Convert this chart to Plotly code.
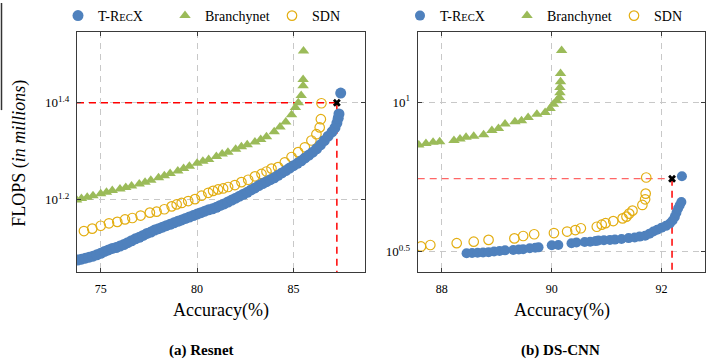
import numpy as np
import plotly.graph_objects as go

# ---------------- (a) Resnet ----------------
resnet_trecx_acc = [73.8, 74.0, 74.2, 74.4, 74.6, 74.8, 75.0, 75.2, 75.4, 75.6, 75.8, 76.0, 76.2, 76.4,
                    76.6, 76.8, 77.0, 77.2, 77.4, 77.6, 77.8, 78.0, 78.2, 78.4, 78.6, 78.8, 79.0, 79.2,
                    79.4, 79.6, 79.8, 80.0, 80.2, 80.4, 80.6, 80.8, 81.0, 81.2, 81.4, 81.6, 81.8, 82.0,
                    82.2, 82.4, 82.6, 82.8, 83.0, 83.2, 83.4, 83.6, 83.8, 84.0, 84.2, 84.4, 84.6, 84.8,
                    85.0, 85.2, 85.4, 85.6, 85.8, 86.0, 86.2, 86.4, 86.6, 86.8, 87.0, 87.15, 87.25,
                    87.32, 87.36, 87.45]
resnet_trecx_log10_flops = [1.075, 1.077, 1.079, 1.081, 1.083, 1.086, 1.089, 1.093, 1.096, 1.099, 1.101,
                            1.104, 1.107, 1.111, 1.115, 1.119, 1.122, 1.126, 1.130, 1.133, 1.137, 1.140,
                            1.143, 1.146, 1.149, 1.152, 1.155, 1.158, 1.161, 1.164, 1.167, 1.170, 1.173,
                            1.176, 1.179, 1.181, 1.184, 1.188, 1.191, 1.195, 1.199, 1.203, 1.207, 1.211,
                            1.215, 1.220, 1.224, 1.229, 1.233, 1.237, 1.241, 1.245, 1.250, 1.255, 1.260,
                            1.265, 1.270, 1.275, 1.280, 1.286, 1.292, 1.298, 1.305, 1.313, 1.322, 1.331,
                            1.340, 1.348, 1.358, 1.368, 1.377, 1.420]

resnet_branchy_acc = [73.75, 74.0, 74.3, 74.6, 75.0, 75.3, 75.6, 76.0, 76.3, 76.6, 77.0, 77.3, 77.6, 78.0,
                      78.3, 78.6, 79.0, 79.3, 79.6, 80.0, 80.3, 80.6, 81.0, 81.3, 81.6, 82.0, 82.3, 82.6,
                      83.0, 83.3, 83.6, 84.0, 84.3, 84.6, 84.9, 85.1, 85.25, 85.4, 85.5, 85.5, 85.52]
resnet_branchy_log10_flops = [1.199, 1.202, 1.205, 1.208, 1.212, 1.215, 1.219, 1.222, 1.225, 1.228, 1.232,
                              1.236, 1.240, 1.245, 1.249, 1.254, 1.259, 1.264, 1.269, 1.275, 1.279, 1.283,
                              1.289, 1.294, 1.298, 1.304, 1.309, 1.313, 1.319, 1.324, 1.330, 1.340, 1.350,
                              1.360, 1.375, 1.390, 1.400, 1.415, 1.435, 1.448, 1.507]

resnet_sdn_acc = [74.13, 74.56, 75.0, 75.43, 75.86, 76.26, 76.64, 77.07, 77.55, 77.9, 78.3, 78.68, 78.94,
                  79.2, 79.54, 79.89, 80.23, 80.58, 80.83, 81.09, 81.35, 81.61, 81.96, 82.3, 82.65, 83.0,
                  83.34, 83.6, 83.86, 84.2, 84.55, 84.9, 85.24, 85.59, 85.93, 86.19, 86.36, 86.42, 86.45]
resnet_sdn_log10_flops = [1.135, 1.140, 1.146, 1.151, 1.154, 1.159, 1.162, 1.167, 1.173, 1.175, 1.180,
                          1.186, 1.190, 1.193, 1.197, 1.201, 1.208, 1.214, 1.218, 1.221, 1.223, 1.226,
                          1.230, 1.236, 1.241, 1.248, 1.253, 1.258, 1.264, 1.267, 1.277, 1.288, 1.298,
                          1.308, 1.322, 1.335, 1.349, 1.366, 1.399]

resnet_target_acc = 87.25
resnet_target_log10_flops = 1.4

# ---------------- (b) DS-CNN ----------------
dscnn_trecx_acc = [88.45, 88.55, 88.65, 88.75, 88.85, 88.95, 89.05, 89.15, 89.3, 89.4, 89.48, 89.6, 89.7,
                   89.76, 90.0, 90.12, 90.36, 90.45, 90.6, 90.7, 90.8, 90.85, 90.95, 91.06, 91.15, 91.27,
                   91.4, 91.51, 91.6, 91.7, 91.78, 91.85, 91.92, 92.0, 92.08, 92.15, 92.2, 92.24, 92.27,
                   92.3, 92.33, 92.36, 92.37]
dscnn_trecx_log10_flops = [0.494, 0.495, 0.496, 0.497, 0.498, 0.500, 0.502, 0.504, 0.505, 0.507, 0.508,
                           0.511, 0.513, 0.514, 0.521, 0.522, 0.528, 0.530, 0.532, 0.533, 0.535, 0.537,
                           0.538, 0.539, 0.540, 0.542, 0.545, 0.547, 0.550, 0.553, 0.560, 0.567, 0.573,
                           0.580, 0.586, 0.594, 0.604, 0.616, 0.630, 0.644, 0.655, 0.666, 0.752]

dscnn_branchy_acc = [87.58, 87.71, 87.84, 87.96, 88.22, 88.33, 88.44, 88.58, 88.76, 88.91, 89.03, 89.15,
                     89.33, 89.45, 89.57, 89.73, 89.88, 89.97, 90.03, 90.09, 90.14, 90.15, 90.15, 90.16,
                     90.16, 90.18]
dscnn_branchy_log10_flops = [0.857, 0.862, 0.866, 0.868, 0.872, 0.877, 0.883, 0.886, 0.891, 0.905, 0.912,
                             0.927, 0.935, 0.938, 0.949, 0.960, 0.966, 0.979, 0.993, 1.005, 1.016, 1.032,
                             1.049, 1.069, 1.096, 1.173]

dscnn_sdn_acc = [87.62, 87.79, 88.27, 88.58, 88.85, 89.32, 89.48, 89.68, 90.04, 90.28, 90.43, 90.53, 90.82,
                 90.91, 90.98, 91.12, 91.29, 91.36, 91.41, 91.47, 91.65, 91.7, 91.71, 91.72]
dscnn_sdn_log10_flops = [0.517, 0.522, 0.528, 0.533, 0.539, 0.544, 0.552, 0.558, 0.562, 0.567, 0.572,
                         0.578, 0.583, 0.590, 0.595, 0.602, 0.611, 0.617, 0.627, 0.637, 0.656, 0.675,
                         0.694, 0.748]

dscnn_target_acc = 92.19
dscnn_target_log10_flops = 0.744

# ticks
resnet_xticks = [75, 80, 85]
resnet_ytick_exps = [1.2, 1.4]
resnet_ytick_text = ["10<sup>1.2</sup>", "10<sup>1.4</sup>"]
dscnn_xticks = [88, 90, 92]
dscnn_ytick_exps = [0.5, 1.0]
dscnn_ytick_text = ["10<sup>0.5</sup>", "10<sup>1</sup>"]

# styles
BLUE = "#4F81BD"
GREEN = "#9BBB59"
GOLD = "#E3AE12"
FONT = "Liberation Serif"
W, H = 712, 362

resnet_xrange = [73.77, 88.71]
resnet_yrange = [1.0495, 1.546]
dscnn_xrange = [87.56, 92.79]
dscnn_yrange = [0.430, 1.235]

trecx_name = "T-R<span style='font-size:10.5px'>EC</span>X"

fig = go.Figure()


def add_panel(xa, ya, legend, acc_t, lf_t, acc_b, lf_b, acc_s, lf_s, tacc, tlf, xrange, yrange,
              hcol, hwidth, tsize):
    tf = lambda v: (10 ** np.array(v)).tolist()
    # red guide lines
    fig.add_trace(go.Scatter(x=[xrange[0], tacc], y=tf([tlf, tlf]), mode="lines",
                             line=dict(color=hcol, width=hwidth, dash="7px,5px"),
                             xaxis=xa, yaxis=ya, showlegend=False, hoverinfo="skip"))
    fig.add_trace(go.Scatter(x=[tacc, tacc], y=tf([tlf, yrange[0]]), mode="lines",
                             line=dict(color="#FF0000", width=1.5, dash="7px,5px"),
                             xaxis=xa, yaxis=ya, showlegend=False, hoverinfo="skip"))
    fig.add_trace(go.Scatter(x=acc_b, y=tf(lf_b), mode="markers", name="Branchynet",
                             marker=dict(symbol="triangle-up", size=10, color=GREEN, line=dict(width=0)),
                             xaxis=xa, yaxis=ya, legend=legend))
    fig.add_trace(go.Scatter(x=acc_s, y=tf(lf_s), mode="markers", name="SDN", legendwidth=28,
                             marker=dict(symbol="circle-open", size=9.5, color=GOLD, line=dict(width=1.2)),
                             xaxis=xa, yaxis=ya, legend=legend))
    fig.add_trace(go.Scatter(x=acc_t, y=tf(lf_t), mode="markers", name=trecx_name,
                             marker=dict(symbol="circle", size=tsize, color=BLUE, line=dict(width=0)),
                             xaxis=xa, yaxis=ya, legend=legend, legendrank=1))
    fig.add_trace(go.Scatter(x=[tacc], y=tf([tlf]), mode="markers",
                             marker=dict(symbol="x", size=7, color="black", line=dict(width=0)),
                             xaxis=xa, yaxis=ya, showlegend=False, hoverinfo="skip"))


add_panel("x", "y", "legend", resnet_trecx_acc, resnet_trecx_log10_flops, resnet_branchy_acc,
          resnet_branchy_log10_flops, resnet_sdn_acc, resnet_sdn_log10_flops, resnet_target_acc,
          resnet_target_log10_flops, resnet_xrange, resnet_yrange, "#FF0000", 1.5, 11)
add_panel("x2", "y2", "legend2", dscnn_trecx_acc, dscnn_trecx_log10_flops, dscnn_branchy_acc,
          dscnn_branchy_log10_flops, dscnn_sdn_acc, dscnn_sdn_log10_flops, dscnn_target_acc,
          dscnn_target_log10_flops, dscnn_xrange, dscnn_yrange, "#FF6666", 1.2, 10)

ydom = [1 - 271.7 / H, 1 - 29.3 / H]
axis_common = dict(showline=True, linecolor="#3a3a3a", linewidth=1, mirror="ticks", ticks="inside",
                   ticklen=4, tickcolor="#3a3a3a", showgrid=True, gridcolor="#C8C8C8", gridwidth=1,
                   griddash="6px,5px", zeroline=False, tickfont=dict(family=FONT, size=12, color="black"))
ytickfont = dict(family=FONT, size=13, color="black")

fig.update_layout(
    width=W, height=H, margin=dict(l=0, r=0, t=0, b=0),
    paper_bgcolor="white", plot_bgcolor="white",
    font=dict(family=FONT, color="black"),
    xaxis=dict(domain=[77 / W, 365 / W], range=resnet_xrange, tickvals=resnet_xticks,
               anchor="y", ticklabelstandoff=5, **axis_common),
    yaxis=dict(domain=ydom, type="log", range=resnet_yrange,
               tickvals=(10 ** np.array(resnet_ytick_exps)).tolist(), ticktext=resnet_ytick_text,
               anchor="x", ticklabelstandoff=4, **{**axis_common, "tickfont": ytickfont}),
    xaxis2=dict(domain=[417.7 / W, 705 / W], range=dscnn_xrange, tickvals=dscnn_xticks,
                anchor="y2", ticklabelstandoff=5, **axis_common),
    yaxis2=dict(domain=ydom, type="log", range=dscnn_yrange,
                tickvals=(10 ** np.array(dscnn_ytick_exps)).tolist(), ticktext=dscnn_ytick_text,
                anchor="x2", ticklabelstandoff=4, **{**axis_common, "tickfont": ytickfont}),
    legend=dict(orientation="h", x=58 / W, y=1 - 13 / H, xanchor="left", yanchor="middle",
                entrywidth=62, entrywidthmode="pixels", font=dict(family=FONT, size=14),
                bgcolor="rgba(0,0,0,0)", traceorder="normal"),
    legend2=dict(orientation="h", x=400 / W, y=1 - 13 / H, xanchor="left", yanchor="middle",
                 entrywidth=62, entrywidthmode="pixels", font=dict(family=FONT, size=14),
                 bgcolor="rgba(0,0,0,0)", traceorder="normal"),
    showlegend=True,
)

ann = [
    dict(text="Accuracy(%)", x=221 / W, y=1 - 310 / H),
    dict(text="Accuracy(%)", x=561.5 / W, y=1 - 310 / H),
    dict(text="<b>(a) Resnet</b>", x=201 / W, y=1 - 350 / H, size=15),
    dict(text="<b>(b) DS-CNN</b>", x=560 / W, y=1 - 350 / H, size=15),
    dict(text="FLOPS (<i>in millions</i>)", x=20 / W, y=1 - 152 / H, angle=-90),
]
for a in ann:
    fig.add_annotation(text=a["text"], x=a["x"], y=a["y"], xref="paper", yref="paper",
                       showarrow=False, xanchor="center", yanchor="middle",
                       textangle=a.get("angle", 0),
                       font=dict(family=FONT, size=a.get("size", 18), color="black"))

# remnant vertical rule at the top-left edge of the page
fig.add_shape(type="line", xref="paper", yref="paper", x0=1.5 / W, x1=1.5 / W, y0=1, y1=1 - 108 / H,
              line=dict(color="#333333", width=1.5))

fig.write_html("out.html", config={"displayModeBar": False},
               post_script="document.body.style.margin='0';document.body.style.overflow='hidden';")
